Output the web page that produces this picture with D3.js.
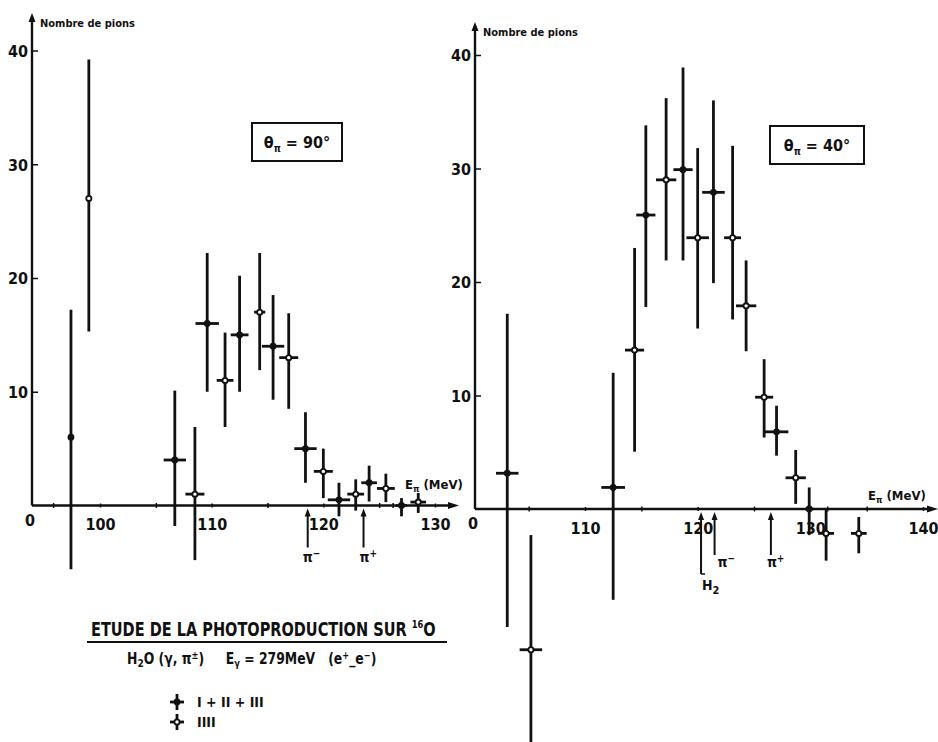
<!DOCTYPE html>
<html>
<head>
<meta charset="utf-8">
<script src="https://cdn.jsdelivr.net/npm/d3@7"></script>
<style>
  body { margin: 0; background: #fff; }
  svg { display: block; }
  text { font-family: "DejaVu Sans Condensed", "Liberation Sans Narrow", sans-serif; font-weight: bold; fill: #111; }
</style>
</head>
<body>
<div id="chart"></div>
<script>
// theta = 90 deg panel
var energy90 = [97.4, 99.0, 106.7, 108.5, 109.6, 111.2, 112.5, 114.3, 115.5, 116.9, 118.4, 120.0, 121.4, 122.9, 124.1, 125.6, 127.0, 128.5];
var count90  = [6.0, 27.0, 4.0, 1.0, 16.0, 11.0, 15.0, 17.0, 14.0, 13.0, 5.0, 3.0, 0.5, 1.0, 2.0, 1.5, 0.0, 0.3];
var high90   = [17.2, 39.2, 10.1, 6.9, 22.2, 15.2, 20.2, 22.2, 18.5, 16.9, 8.2, 5.0, 2.0, 2.3, 3.5, 2.8, 0.65, 1.1];
var low90    = [-5.6, 15.3, -1.8, -4.8, 10.0, 6.9, 10.0, 11.9, 9.3, 8.5, 2.0, 0.65, -0.95, -0.45, 0.35, 0.3, -0.95, -0.65];
var width90  = [0, 0, 1.0, 0.85, 1.05, 0.75, 0.8, 0.5, 1.0, 0.85, 1.0, 0.85, 1.0, 0.75, 0.7, 0.8, 0.5, 0.7];
var set90    = ["A", "B", "A", "B", "A", "B", "A", "B", "A", "B", "A", "B", "A", "B", "A", "B", "A", "B"];

// theta = 40 deg panel
var energy40 = [103.1, 105.2, 112.5, 114.4, 115.4, 117.2, 118.7, 120.0, 121.4, 123.1, 124.3, 125.9, 127.0, 128.7, 129.9, 131.4, 134.3];
var count40  = [3.15, -12.4, 1.9, 14.0, 25.9, 29.0, 29.9, 23.9, 27.9, 23.9, 17.9, 9.85, 6.8, 2.75, 0.0, -2.15, -2.15];
var high40   = [17.2, -2.3, 12.0, 23.0, 33.8, 36.2, 38.9, 31.8, 36.0, 32.0, 21.9, 13.2, 9.1, 5.2, 1.9, 0.05, -0.7];
var low40    = [-10.4, -21.0, -8.0, 5.05, 17.8, 21.9, 21.9, 15.9, 19.9, 16.7, 13.9, 6.3, 4.7, 0.45, -2.3, -4.55, -3.9];
var width40  = [1.0, 1.0, 1.05, 0.85, 0.85, 0.9, 0.85, 1.0, 1.0, 0.75, 0.9, 0.8, 1.05, 0.9, 0.35, 0.7, 0.7];
var set40    = ["A", "B", "A", "B", "A", "B", "A", "B", "A", "B", "B", "B", "A", "B", "A", "B", "B"];

var yTicks = [10, 20, 30, 40];
var xTicks90 = [100, 110, 120, 130];
var minor90 = [95.8, 105, 115, 125, 126.2];
var xTicks40 = [110, 120, 130, 140];
var minor40 = [105, 115, 125, 131.5, 135];

var marks90 = [118.6, 123.6];
var markLabels90 = ["π", "π"];
var markSigns90 = ["−", "+"];
var marks40 = [120.3, 121.5, 126.5];
var markLabels40 = ["H", "π", "π"];
var markSigns40 = ["2", "−", "+"];

var legendLabels = ["I + II + III", "IIII"];
var legendSets = ["A", "B"];

var W = 938, H = 742, ink = "#111";

var svg = d3.select("#chart").append("svg")
    .attr("width", W)
    .attr("height", H);

function drawMarker(g, x, y, half, type) {
    if (half > 0) {
        g.append("line").attr("x1", x - half).attr("x2", x + half)
            .attr("y1", y).attr("y2", y)
            .attr("stroke", ink).attr("stroke-width", 2.8);
    }
    if (type == "A") {
        g.append("circle").attr("cx", x).attr("cy", y).attr("r", 3.4).attr("fill", ink);
    } else {
        g.append("circle").attr("cx", x).attr("cy", y).attr("r", 2.6)
            .attr("fill", "#fff").attr("stroke", ink).attr("stroke-width", 1.8);
    }
}

function drawPanel(p) {
    var g = svg.append("g");
    var x = d3.scaleLinear().domain(p.xDomain).range(p.xRange);
    var y = d3.scaleLinear().domain([0, 40]).range(p.yRange);
    var y0 = y(0);

    // y axis
    var yAxis = d3.axisLeft(y).tickValues(yTicks).tickSizeInner(-6).tickSizeOuter(0).tickPadding(4);
    var ya = g.append("g").attr("transform", "translate(" + p.originX + ",0)").call(yAxis);
    ya.select(".domain").remove();
    ya.selectAll(".tick line").attr("stroke", ink).attr("stroke-width", 1.5);
    ya.selectAll(".tick text").style("font-size", "16px").attr("dy", "0.36em");

    g.append("line").attr("x1", p.originX).attr("x2", p.originX)
        .attr("y1", y0).attr("y2", p.yTop + 4)
        .attr("stroke", ink).attr("stroke-width", 2.4);
    g.append("path")
        .attr("d", "M" + p.originX + "," + p.yTop + "l-3.5,9h7z")
        .attr("fill", ink);
    g.append("text").attr("x", p.originX + 8).attr("y", p.yTop + 14)
        .style("font-size", "11px").text("Nombre de pions");

    // x axis
    var xAxis = d3.axisBottom(x).tickValues(p.xTicks).tickSizeInner(4).tickSizeOuter(0).tickPadding(6);
    var xa = g.append("g").attr("transform", "translate(0," + (y0 - 2) + ")").call(xAxis);
    xa.select(".domain").remove();
    xa.selectAll(".tick line").attr("stroke", ink).attr("stroke-width", 1.5);
    xa.selectAll(".tick text").style("font-size", "16px").attr("dy", "1.05em");

    var xm = d3.axisBottom(x).tickValues(p.minor).tickSizeInner(5).tickSizeOuter(0).tickFormat("");
    var xma = g.append("g").attr("transform", "translate(0," + (y0 - 2.5) + ")").call(xm);
    xma.select(".domain").remove();
    xma.selectAll(".tick line").attr("stroke", ink).attr("stroke-width", 1.5);

    g.append("line").attr("x1", p.originX).attr("x2", p.xEnd - 6)
        .attr("y1", y0).attr("y2", y0)
        .attr("stroke", ink).attr("stroke-width", 2.4);
    g.append("path")
        .attr("d", "M" + p.xEnd + "," + y0 + "l-11,-3.5v7z")
        .attr("fill", ink);
    g.append("text").attr("x", p.originX - 2).attr("y", y0 + 20)
        .attr("text-anchor", "middle").style("font-size", "16px").text("0");

    var lab = g.append("text").attr("x", p.eLabel[0]).attr("y", p.eLabel[1]).style("font-size", "13px");
    lab.append("tspan").text("E");
    lab.append("tspan").attr("dy", 3).style("font-size", "9px").text("π");
    lab.append("tspan").attr("dy", -3).text(" (MeV)");

    // angle box
    g.append("rect").attr("x", p.box[0]).attr("y", p.box[1])
        .attr("width", p.box[2]).attr("height", p.box[3])
        .attr("fill", "none").attr("stroke", ink).attr("stroke-width", 2);
    var bt = g.append("text").attr("x", p.box[0] + p.box[2] / 2).attr("y", p.box[1] + p.box[3] / 2 + 6)
        .attr("text-anchor", "middle").style("font-size", "16px");
    bt.append("tspan").text("θ");
    bt.append("tspan").attr("dy", 4).style("font-size", "10px").text("π");
    bt.append("tspan").attr("dy", -4).text(" = " + p.angle + "°");

    // error bars
    p.energy.forEach(function(e, i) {
        var cx = x(e), cy = y(p.count[i]);
        g.append("line").attr("x1", cx).attr("x2", cx)
            .attr("y1", y(p.high[i])).attr("y2", y(p.low[i]))
            .attr("stroke", ink).attr("stroke-width", 2.8);
        drawMarker(g, cx, cy, x(e + p.width[i]) - cx, p.set[i]);
    });

    // threshold arrows
    p.marks.forEach(function(e, i) {
        var mx = x(e);
        g.append("line").attr("x1", mx).attr("x2", mx)
            .attr("y1", y0 + 9).attr("y2", y0 + p.markLen[i])
            .attr("stroke", ink).attr("stroke-width", 2);
        g.append("path").attr("d", "M" + mx + "," + (y0 + 3) + "l-3,8h6z").attr("fill", ink);
        var t = g.append("text").attr("x", mx + p.markDx[i]).attr("y", y0 + p.markLen[i] + p.markDy[i])
            .style("font-size", "14px");
        t.append("tspan").text(p.markLabels[i]);
        if (p.markSigns[i] == "2") {
            t.append("tspan").attr("dy", 4).style("font-size", "11px").text("2");
            g.append("line").attr("x1", mx).attr("x2", mx + 4)
                .attr("y1", y0 + p.markLen[i]).attr("y2", y0 + p.markLen[i])
                .attr("stroke", ink).attr("stroke-width", 1.5);
        } else {
            t.append("tspan").attr("dy", -5).style("font-size", "10px").text(p.markSigns[i]);
        }
    });
}

drawPanel({
    xDomain: [100, 130], xRange: [100, 435], yRange: [505.5, 50.5],
    originX: 32, yTop: 13, xEnd: 459,
    xTicks: xTicks90, minor: minor90,
    eLabel: [405, 489], box: [252, 123, 90, 38], angle: 90,
    energy: energy90, count: count90, high: high90, low: low90, width: width90, set: set90,
    marks: marks90, markLabels: markLabels90, markSigns: markSigns90,
    markLen: [42, 42], markDx: [-5, -4], markDy: [14, 14]
});

drawPanel({
    xDomain: [110, 140], xRange: [585, 923], yRange: [509, 55],
    originX: 475, yTop: 22, xEnd: 938,
    xTicks: xTicks40, minor: minor40,
    eLabel: [868, 500], box: [770, 126, 94, 38], angle: 40,
    energy: energy40, count: count40, high: high40, low: low40, width: width40, set: set40,
    marks: marks40, markLabels: markLabels40, markSigns: markSigns40,
    markLen: [65, 46, 46], markDx: [1, 3, -4], markDy: [16, 12, 12]
});

// caption
var cap = svg.append("g");
var t1 = cap.append("g").attr("transform", "translate(91,636) scale(0.85,1)")
    .append("text").style("font-size", "19px");
t1.append("tspan").text("ETUDE DE LA PHOTOPRODUCTION SUR ");
t1.append("tspan").attr("dy", -8).style("font-size", "11px").text("16");
t1.append("tspan").attr("dy", 8).text("O");
cap.append("line").attr("x1", 87).attr("x2", 447).attr("y1", 642).attr("y2", 642)
    .attr("stroke", ink).attr("stroke-width", 2);

var t2 = cap.append("g").attr("transform", "translate(127,664) scale(0.92,1)")
    .append("text").style("font-size", "15px").attr("xml:space", "preserve");
t2.append("tspan").text("H");
t2.append("tspan").attr("dy", 3).style("font-size", "11px").text("2");
t2.append("tspan").attr("dy", -3).text("O (γ, π");
t2.append("tspan").attr("dy", -5).style("font-size", "10px").text("±");
t2.append("tspan").attr("dy", 5).text(")     E");
t2.append("tspan").attr("dy", 3).style("font-size", "10px").text("γ");
t2.append("tspan").attr("dy", -3).text(" = 279MeV   (e");
t2.append("tspan").attr("dy", -5).style("font-size", "10px").text("+");
t2.append("tspan").attr("dy", 5).text("_e");
t2.append("tspan").attr("dy", -5).style("font-size", "10px").text("−");
t2.append("tspan").attr("dy", 5).text(")");

legendLabels.forEach(function(l, i) {
    var ly = 702 + i * 20;
    cap.append("line").attr("x1", 177).attr("x2", 177).attr("y1", ly - 8).attr("y2", ly + 8)
        .attr("stroke", ink).attr("stroke-width", 2.8);
    drawMarker(cap, 177, ly, 7, legendSets[i]);
    cap.append("text").attr("x", 197).attr("y", ly + 5).style("font-size", "14px").text(l);
});
</script>
</body>
</html>
